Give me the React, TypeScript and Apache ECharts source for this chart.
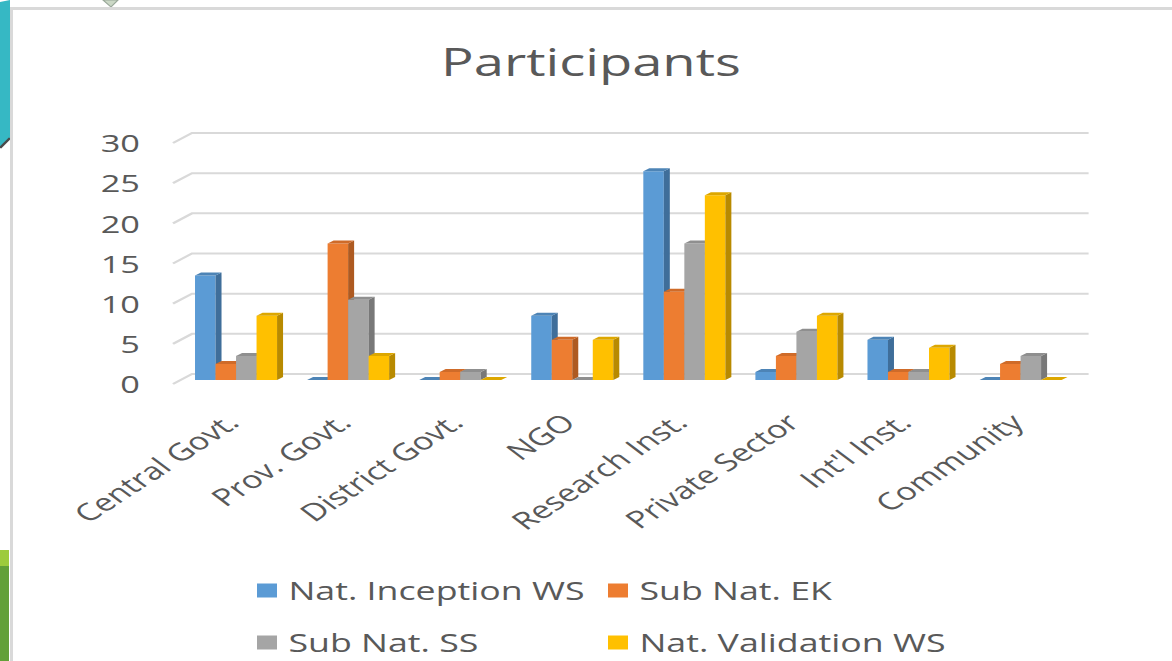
import React, { useEffect, useRef } from 'react';
import * as echarts from 'echarts';

const categories = ['Central Govt.', 'Prov. Govt.', 'District Govt.', 'NGO', 'Research Inst.', 'Private Sector', "Int'l Inst.", 'Community'];
const seriesNames = ['Nat. Inception WS', 'Sub Nat. EK', 'Sub Nat. SS', 'Nat. Validation WS'];
const natInceptionWS = [13, 0, 0, 8, 26, 1, 5, 0];
const subNatEK = [2, 17, 1, 5, 11, 3, 1, 2];
const subNatSS = [3, 10, 1, 0, 17, 6, 1, 3];
const natValidationWS = [8, 3, 0, 5, 23, 8, 4, 0];
const yTicks = [0, 5, 10, 15, 20, 25, 30];

// the reference picture is horizontally stretched; draw unstretched and scale the chart div
const S = 1.43;
const W = 1172 / S;
const H = 661;
const X = (px: number) => px / S;

const faceColors = ['#5B9BD5', '#ED7D31', '#A5A5A5', '#FFC000'];
const sideColors = ['#3F6E9A', '#AE5A21', '#787878', '#B88A00'];
const topColors = ['#4D84B6', '#CF6B29', '#8F8F8F', '#DDA700'];

const BAR_FRAC = 0.183;
const DEPTH_X = X(6);
const DEPTH_Y = 3;
const BACK_DX = X(12);
const BACK_DY = -6;
const FRONT_DX = X(-7);
const FRONT_DY = 4;
const FONT = '"Open Sans", "DejaVu Sans", sans-serif';
const TEXT = '#595959';

const makeBarRender = (s: number) => (params: any, api: any) => {
  const i = api.value(0);
  const v = api.value(1);
  const base = api.coord([i, 0]);
  const top = api.coord([i, v]);
  const band = api.size([1, 0])[0];
  const bw = band * BAR_FRAC;
  const x0 = base[0] - 2 * bw + s * bw;
  const x1 = x0 + bw;
  const yT = top[1];
  const yB = base[1];
  return {
    type: 'group',
    children: [
      { type: 'rect', shape: { x: x0, y: yT, width: bw, height: yB - yT }, style: { fill: faceColors[s] } },
      {
        type: 'polygon',
        shape: { points: [[x1, yT], [x1 + DEPTH_X, yT - DEPTH_Y], [x1 + DEPTH_X, yB - DEPTH_Y], [x1, yB]] },
        style: { fill: sideColors[s] },
      },
      {
        type: 'polygon',
        shape: { points: [[x0, yT], [x0 + DEPTH_X, yT - DEPTH_Y], [x1 + DEPTH_X, yT - DEPTH_Y], [x1, yT]] },
        style: { fill: topColors[s] },
      },
    ],
  };
};

export default function App() {
  const ref = useRef<HTMLDivElement>(null);
  useEffect(() => {
    document.body.style.margin = '0';
    document.body.style.background = '#ffffff';
    const chart = echarts.init(ref.current as HTMLDivElement, null, { renderer: 'svg' });
    const values = [natInceptionWS, subNatEK, subNatSS, natValidationWS];
    const option: any = {
      animation: false,
      backgroundColor: '#ffffff',
      graphic: [
        // slide decorations outside the chart panel
        { type: 'polygon', z: -10, shape: { points: [[0, 2], [X(10), 0], [X(10), 138], [0, 147]] }, style: { fill: '#36B8C4' } },
        { type: 'line', z: -9, shape: { x1: X(10), y1: 138, x2: 0, y2: 148 }, style: { stroke: '#4a4a4a', lineWidth: 2 } },
        { type: 'polygon', z: -10, shape: { points: [[X(103), 0], [X(118), 0], [X(111), 7]] }, style: { fill: '#CBD8C6', stroke: '#9aa89a', lineWidth: 1 } },
        { type: 'rect', z: -10, shape: { x: 0, y: 550, width: X(9), height: 16 }, style: { fill: '#9DCB3C' } },
        { type: 'rect', z: -10, shape: { x: 0, y: 566, width: X(9), height: 95 }, style: { fill: '#62A038' } },
        // chart panel border
        { type: 'rect', z: -8, shape: { x: X(10), y: 7, width: W, height: 3 }, style: { fill: '#D9D9D9' } },
        { type: 'rect', z: -8, shape: { x: X(10), y: 7, width: X(3), height: H }, style: { fill: '#D9D9D9' } },
        {
          type: 'text',
          x: X(591),
          y: 61,
          style: { text: 'Participants', font: `normal 38px ${FONT}`, fill: TEXT, align: 'center', verticalAlign: 'middle' },
        },
      ],
      grid: [
        // bar plane
        { left: X(180), right: W - X(1076), top: 139, bottom: H - 380, outerBoundsMode: 'none' },
        // front plane (carries the value labels)
        { left: X(173), right: W - X(1069), top: 143, bottom: H - 384, outerBoundsMode: 'none' },
      ],
      xAxis: [
        {
          type: 'category',
          gridIndex: 0,
          data: categories,
          axisLine: { show: false },
          axisTick: { show: false },
          axisLabel: {
            interval: 0,
            rotate: 43,
            margin: 35,
            fontFamily: FONT,
            fontSize: 24,
            color: TEXT,
            padding: [0, 4, 0, 0],
          },
        },
        { type: 'category', gridIndex: 1, data: categories, show: false },
      ],
      yAxis: [
        { type: 'value', gridIndex: 0, min: 0, max: 30, interval: 5, show: false },
        {
          type: 'value',
          gridIndex: 1,
          min: 0,
          max: 30,
          interval: 5,
          axisLine: { show: false },
          axisTick: { show: false },
          splitLine: { show: false },
          axisLabel: { margin: X(33), fontFamily: FONT, fontSize: 24, color: TEXT },
        },
      ],
      legend: seriesNames.map((n, k) => ({
        data: [n],
        left: X(k % 2 === 0 ? 257 : 608),
        top: (k < 2 ? 590 : 642) - 12,
        padding: 0,
        itemWidth: 14,
        itemHeight: 14,
        icon: 'rect',
        selectedMode: false,
        textStyle: { fontFamily: FONT, fontSize: 25, color: TEXT, padding: [0, 0, 0, 3] },
      })),
      series: [
        {
          type: 'custom',
          name: 'gridlines',
          xAxisIndex: 0,
          yAxisIndex: 0,
          z: 1,
          silent: true,
          encode: { x: 0, y: 1 },
          data: yTicks.map((v) => [0, v]),
          renderItem: (params: any, api: any) => {
            const cs = params.coordSys;
            const y = api.coord([0, api.value(1)])[1];
            return {
              type: 'polyline',
              shape: {
                points: [
                  [cs.x + FRONT_DX, y + FRONT_DY],
                  [cs.x + BACK_DX, y + BACK_DY],
                  [cs.x + cs.width + BACK_DX, y + BACK_DY],
                ],
              },
              style: { stroke: '#D9D9D9', lineWidth: 2, fill: null },
            };
          },
        },
        ...seriesNames.map((n, s) => ({
          type: 'custom',
          name: n,
          xAxisIndex: 0,
          yAxisIndex: 0,
          z: 2,
          itemStyle: { color: faceColors[s] },
          encode: { x: 0, y: 1 },
          data: values[s].map((v, i) => [i, v]),
          renderItem: makeBarRender(s),
        })),
      ],
    };
    chart.setOption(option);
    return () => chart.dispose();
  }, []);
  return (
    <div
      ref={ref}
      style={{
        position: 'fixed',
        left: 0,
        top: 0,
        width: W,
        height: H,
        transform: `scaleX(${S})`,
        transformOrigin: '0 0',
      }}
    />
  );
}
